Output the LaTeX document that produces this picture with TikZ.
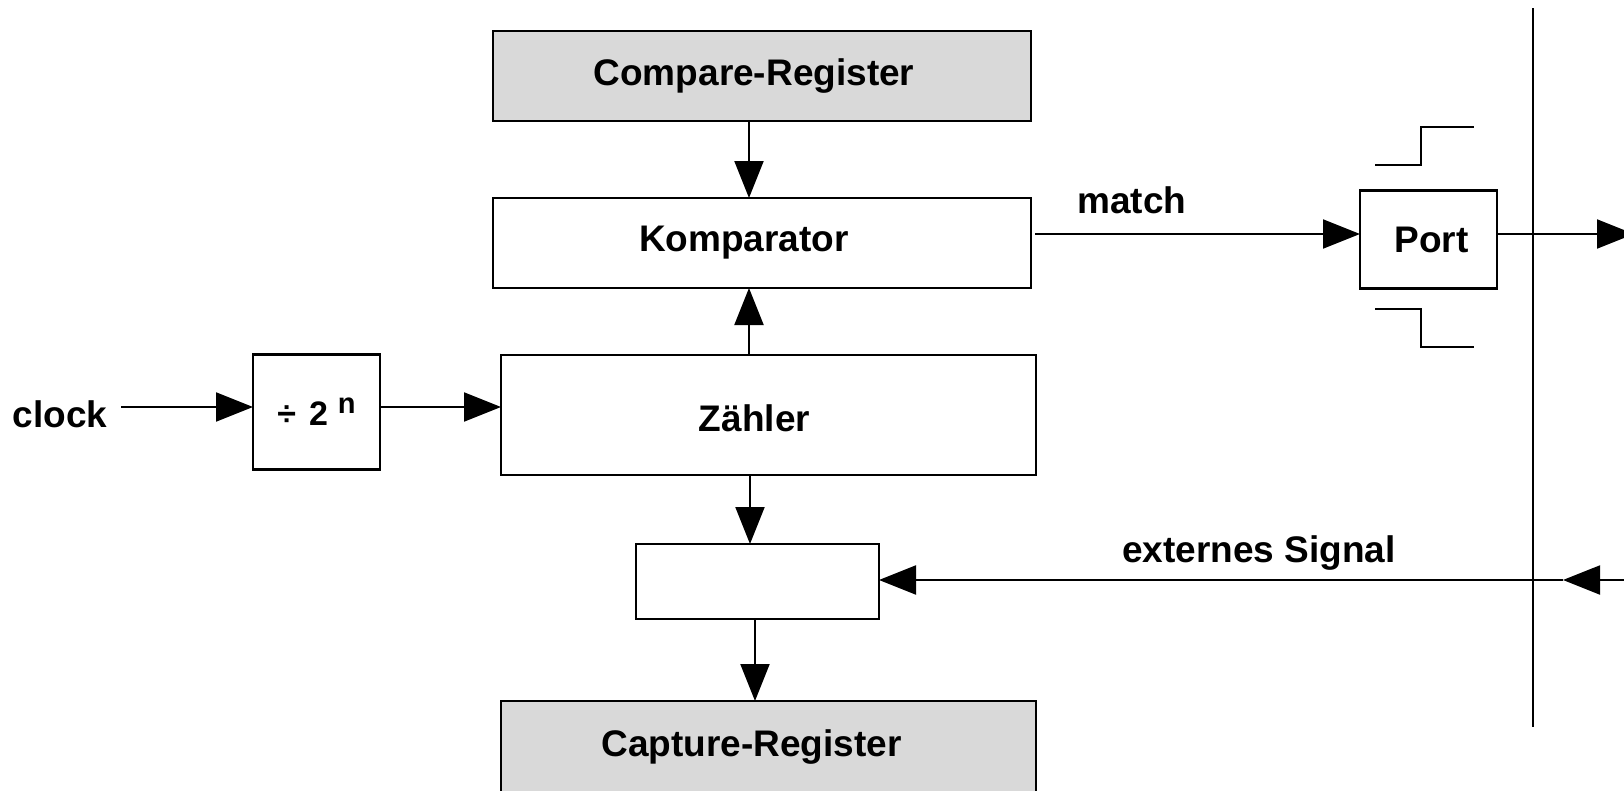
\documentclass[tikz,border=0pt]{standalone}
\usepackage{fontspec}
\setmainfont{Liberation Sans}
\usetikzlibrary{arrows.meta,calc}

\definecolor{reggray}{RGB}{217,217,217}

\begin{document}
\begin{tikzpicture}[
  x=1pt, y=-1pt,
  font=\fontsize{37}{44}\selectfont\bfseries,
  block/.style={draw, line width=2.5pt, inner sep=0pt, outer sep=0pt},
  regblock/.style={block, fill=reggray},
  arr/.style={line width=2pt, -{Triangle[length=37pt,width=29pt]}},
  wire/.style={line width=2pt},
  txt/.style={inner sep=0pt, anchor=base},
]
\useasboundingbox (0,0) rectangle (1624,790);

% register and function blocks
\node[regblock, minimum width=538pt, minimum height=90pt,
      label={[name=cmp-l, xshift=-8pt]center:Compare-Register}] (cmp) at (762,76) {};
\node[block, minimum width=538pt, minimum height=90pt,
      label={[name=kmp-l, xshift=-18pt]center:Komparator}] (kmp) at (762,243) {};
\node[block, minimum width=535pt, minimum height=120pt,
      label={[name=zae-l, xshift=-14pt, yshift=-3pt]center:Zähler}] (zae) at (768.5,415) {};
\node[block, minimum width=127pt, minimum height=115pt] (div) at (316.5,412)
      {\fontsize{34}{40}\selectfont ÷\hspace{13pt}2\hspace{10pt}\raisebox{12pt}{\fontsize{29}{29}\selectfont n}\hspace{5pt}};
\node[block, minimum width=243pt, minimum height=75pt] (cap) at (757.5,581.5) {};
\node[regblock, minimum width=535pt, minimum height=92pt,
      label={[name=capreg-l, xshift=-17pt]center:Capture-Register}] (capreg) at (768.5,747) {};
\node[block, minimum width=137pt, minimum height=98pt,
      label={[name=port-l, xshift=3pt]center:Port}] (port) at (1428.5,239.5) {};

% signal names
\node[txt] (clk) at (60,427) {clock};
\node[txt] (match) at (1132,213) {match};
\node[txt] (ext) at (1259,562) {externes Signal};

% reference points for connectors
\coordinate (ax) at (749,0);
\coordinate (bx) at (750,0);
\coordinate (cx) at (755,0);
\coordinate (clk-end) at (121,407);
\coordinate (m0) at (1035,234);
\coordinate (out) at (1634,234);
\coordinate (ein) at (1650,580);
\coordinate (pin) at (1563,580);
\coordinate (bus-top) at (1533,8);
\coordinate (bus-bot) at (1533,727);

% connectors
\draw[arr] (cmp.south -| ax) -- (kmp.north -| ax);
\draw[arr] (zae.north -| ax) -- (kmp.south -| ax);
\draw[arr] (zae.south -| bx) -- (cap.north -| bx);
\draw[arr] (cap.south -| cx) -- (capreg.north -| cx);
\draw[arr] (clk-end) -- (clk-end -| div.west);
\draw[arr] (div.east |- clk-end) -- (zae.west |- clk-end);
\draw[arr] (m0) -- (m0 -| port.west);
\draw[arr] (port.east |- m0) -- (out);
\draw[arr] (ein) -- (pin);
\draw[arr] (pin) -- (pin -| cap.east);

% pin boundary
\draw[line width=2.5pt] (bus-top) -- (bus-bot);

% rising and falling edge marks beside the port
\draw[wire] (1375,165) -- (1421,165) -- (1421,127) -- (1474,127);
\draw[wire] (1375,309) -- (1421,309) -- (1421,347) -- (1474,347);
\end{tikzpicture}
\end{document}
